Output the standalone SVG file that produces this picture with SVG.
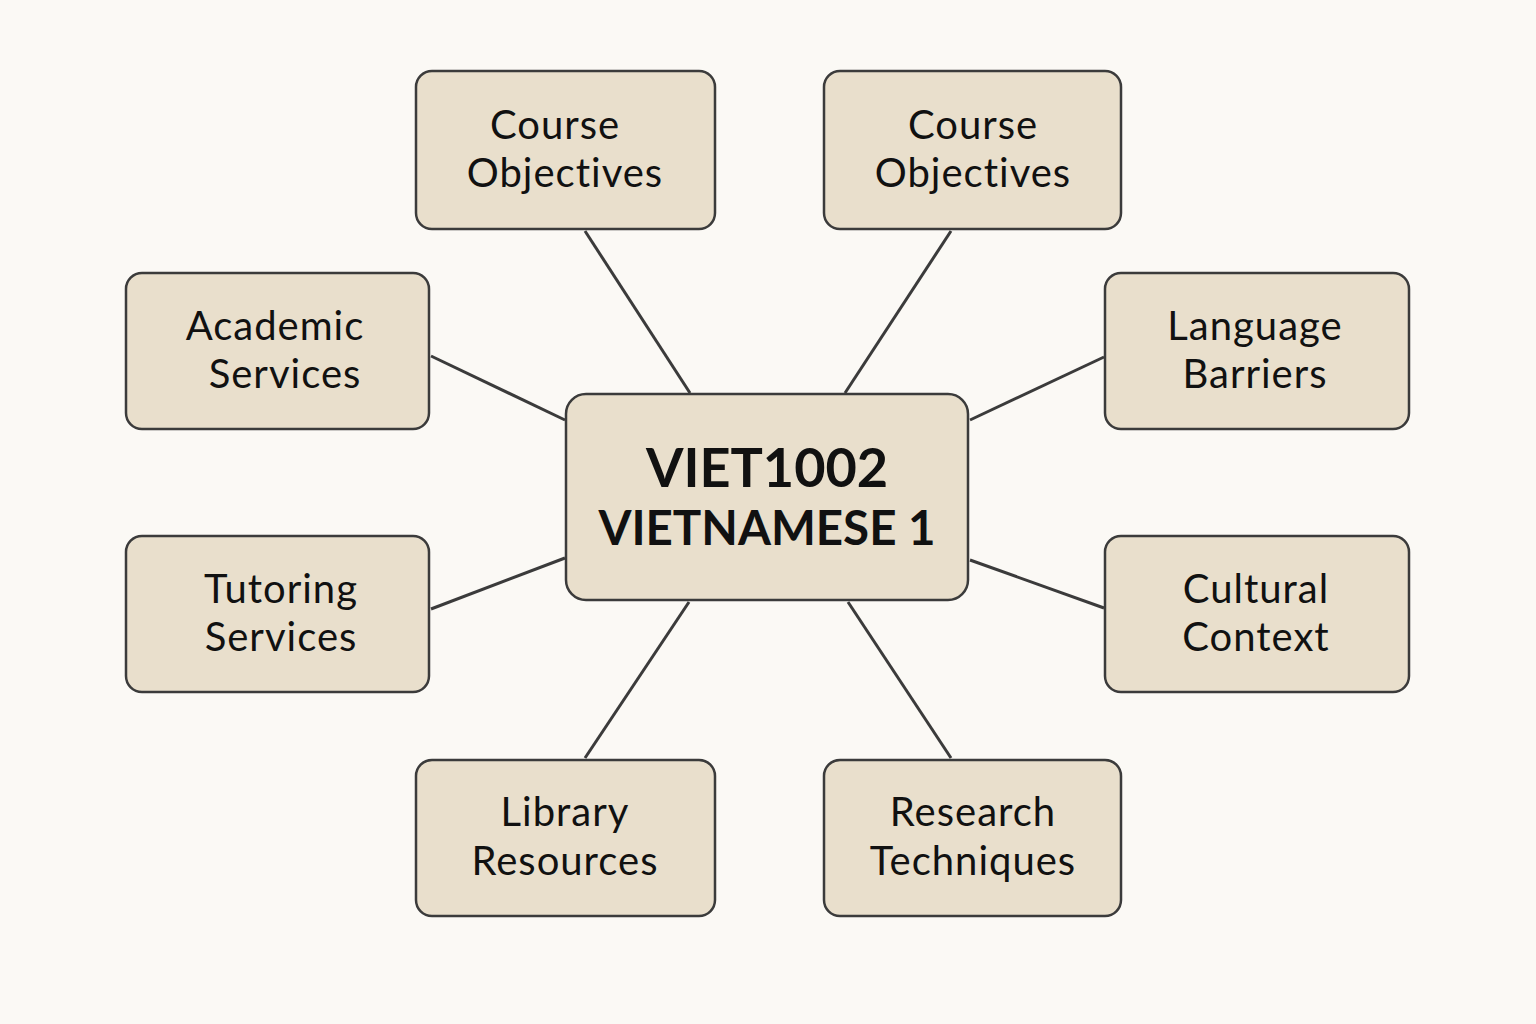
<svg xmlns="http://www.w3.org/2000/svg" width="1536" height="1024" viewBox="0 0 1536 1024">
<style>
.box{fill:#e9dfcc;stroke:#3b3b3b;stroke-width:2.5}
.t{font-family:Lato,"Open Sans","Liberation Sans",sans-serif;font-size:40px;letter-spacing:1px;fill:#111;text-anchor:middle}
.c{font-family:Lato,"Open Sans","Liberation Sans",sans-serif;font-weight:bold;fill:#111;text-anchor:middle}
.e{stroke:#3b3b3b;stroke-width:3;fill:none}
</style>
<rect width="1536" height="1024" fill="#fbf9f5"/>
<g id="connectors">
<line class="e" x1="585" y1="231" x2="690" y2="393"/>
<line class="e" x1="951" y1="231" x2="845" y2="393"/>
<line class="e" x1="431" y1="356" x2="565" y2="420"/>
<line class="e" x1="1104" y1="357" x2="970" y2="420"/>
<line class="e" x1="431" y1="609" x2="565" y2="558"/>
<line class="e" x1="1104" y1="608" x2="970" y2="560"/>
<line class="e" x1="585" y1="758" x2="689" y2="602"/>
<line class="e" x1="951" y1="758" x2="848" y2="602"/>
</g>
<g id="center">
<rect class="box" x="566" y="394" width="402" height="206" rx="20"/>
<text class="c" x="767" y="487" font-size="54">VIET1002</text>
<text class="c" x="767" y="545" font-size="47.5">VIETNAMESE 1</text>
</g>
<g id="course1">
<rect class="box" x="416" y="71" width="299" height="158" rx="16"/>
<text class="t" x="555" y="139">Course</text>
<text class="t" x="565" y="187">Objectives</text>
</g>
<g id="course2">
<rect class="box" x="824" y="71" width="297" height="158" rx="16"/>
<text class="t" x="973" y="139">Course</text>
<text class="t" x="973" y="187">Objectives</text>
</g>
<g id="academic">
<rect class="box" x="126" y="273" width="303" height="156" rx="16"/>
<text class="t" x="275" y="340">Academic</text>
<text class="t" x="285" y="388">Services</text>
</g>
<g id="language">
<rect class="box" x="1105" y="273" width="304" height="156" rx="16"/>
<text class="t" x="1255" y="340">Language</text>
<text class="t" x="1255" y="388">Barriers</text>
</g>
<g id="tutoring">
<rect class="box" x="126" y="536" width="303" height="156" rx="16"/>
<text class="t" x="281" y="603">Tutoring</text>
<text class="t" x="281" y="651">Services</text>
</g>
<g id="cultural">
<rect class="box" x="1105" y="536" width="304" height="156" rx="16"/>
<text class="t" x="1256" y="603">Cultural</text>
<text class="t" x="1256" y="651">Context</text>
</g>
<g id="library">
<rect class="box" x="416" y="760" width="299" height="156" rx="16"/>
<text class="t" x="565" y="826">Library</text>
<text class="t" x="565" y="875">Resources</text>
</g>
<g id="research">
<rect class="box" x="824" y="760" width="297" height="156" rx="16"/>
<text class="t" x="973" y="826">Research</text>
<text class="t" x="973" y="875">Techniques</text>
</g>
</svg>
